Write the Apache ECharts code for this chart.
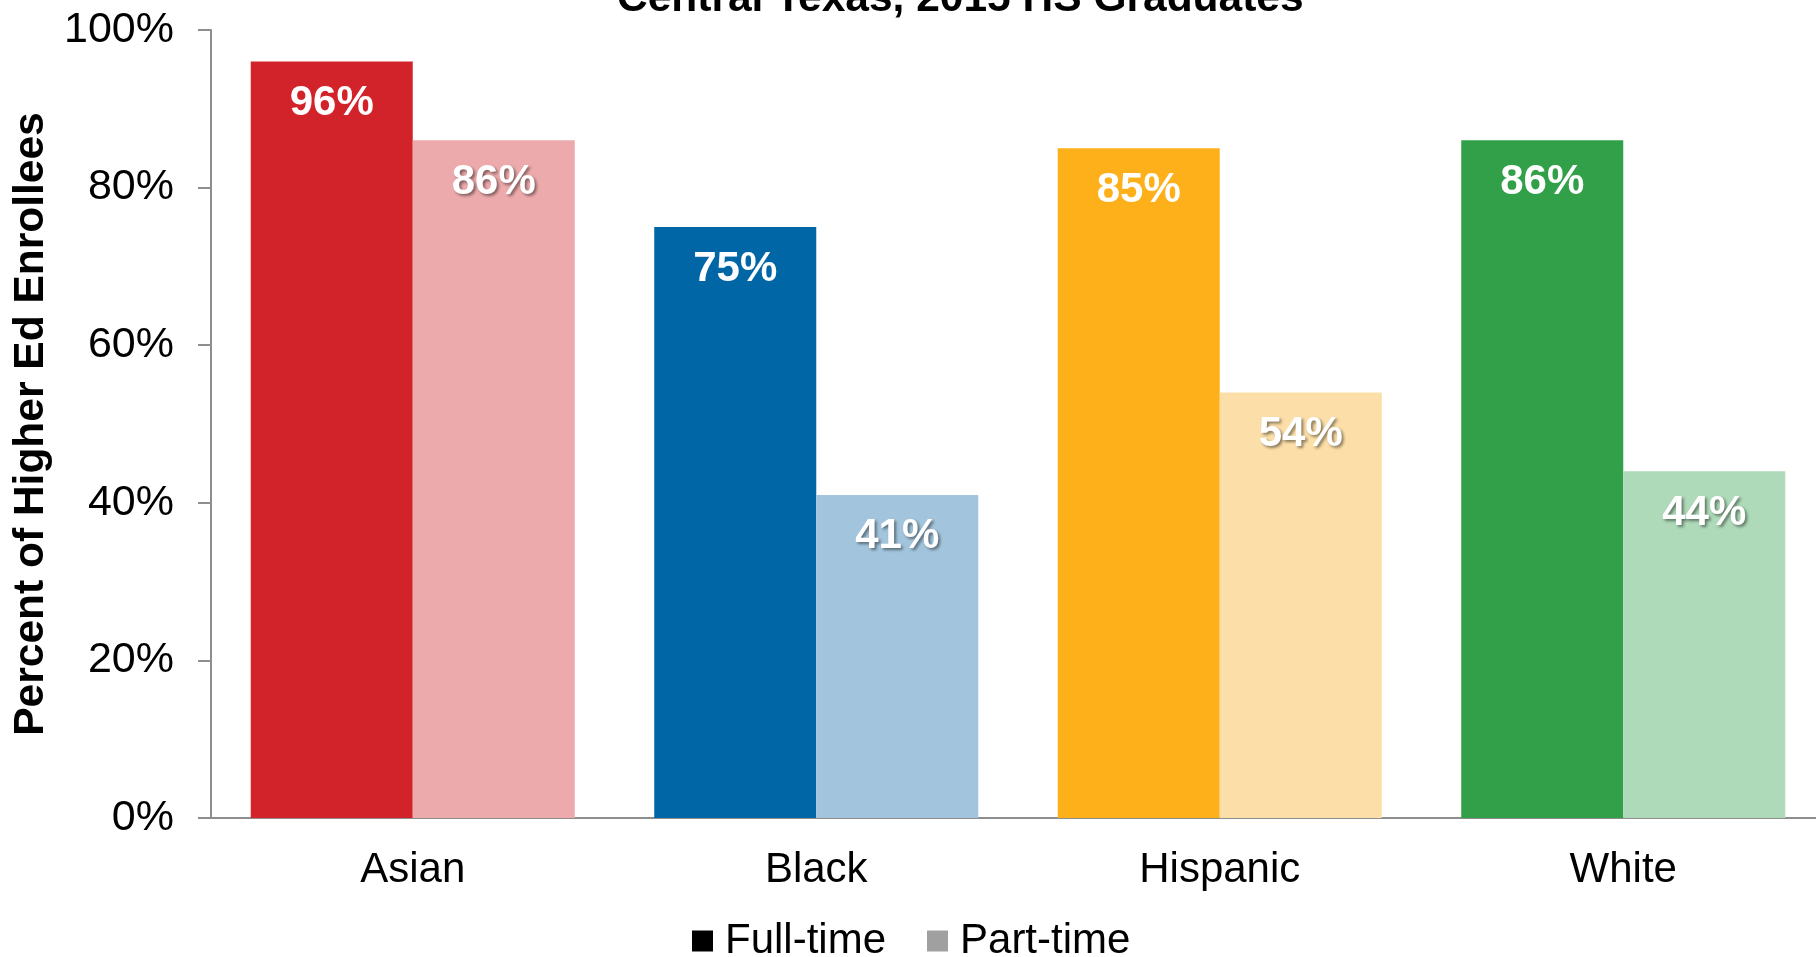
<!DOCTYPE html>
<html>
<head>
<meta charset="utf-8">
<title>Central Texas, 2015 HS Graduates</title>
<script src="https://cdn.jsdelivr.net/npm/echarts@6/dist/echarts.min.js"></script>
<style>
  html, body { margin: 0; padding: 0; background: #ffffff; overflow: hidden; }
  /* canvas is a little wider than the window so the plot area runs past the right edge */
  #chart { width: 1826px; height: 957px; }
</style>
</head>
<body>
<div id="chart"></div>
<script>
// Share of higher-ed enrollees by race/ethnicity, full-time vs part-time
const categories = ['Asian', 'Black', 'Hispanic', 'White'];
const fullTime = [96, 75, 85, 86];
const partTime = [86, 41, 54, 44];
const yTicks = [0, 20, 40, 60, 80, 100];

// One hue per group: strong shade for full-time, pale shade for part-time
const fullColors = ['#D2232A', '#0066A6', '#FDB01A', '#31A048'];
const partColors = ['#EDAAAC', '#A2C5DD', '#FCDFA8', '#AEDAB9'];

const FONT = '"Liberation Sans", Arial, Helvetica, sans-serif';

const chart = echarts.init(document.getElementById('chart'), null, { renderer: 'canvas' });

const baseLabel = {
  show: true,
  position: 'insideTop',
  distance: 21,
  color: '#ffffff',
  fontFamily: FONT,
  fontWeight: 'bold',
  fontSize: 42,
  formatter: p => Math.round(p.value) + '%'
};

chart.setOption({
  backgroundColor: '#ffffff',
  animation: false,
  title: {
    text: 'Central Texas, 2015 HS Graduates',
    left: 617,
    top: -22,
    padding: 0,
    textStyle: {
      fontFamily: FONT,
      fontWeight: 'bold',
      fontSize: 42.5,
      lineHeight: 43,
      color: '#000000'
    }
  },
  legend: {
    top: 920,
    left: 692,
    padding: 0,
    itemWidth: 21,
    itemHeight: 21,
    itemGap: 41,
    icon: 'rect',
    textStyle: {
      fontFamily: FONT,
      fontSize: 42,
      color: '#000000',
      padding: [0, 0, 0, 7]
    },
    data: [
      { name: 'Full-time', itemStyle: { color: '#000000' } },
      { name: 'Part-time', itemStyle: { color: '#A0A0A0' } }
    ]
  },
  grid: {
    left: 211,
    top: 30,
    bottom: 139,
    right: 1,
    containLabel: false
  },
  xAxis: {
    type: 'category',
    data: categories,
    axisLine: { show: true, lineStyle: { color: '#8E8E8E', width: 2 } },
    axisTick: { show: false },
    axisLabel: {
      margin: 31,
      fontFamily: FONT,
      fontSize: 42,
      color: '#000000'
    },
    splitLine: { show: false }
  },
  yAxis: {
    type: 'value',
    min: yTicks[0],
    max: yTicks[yTicks.length - 1],
    interval: yTicks[1] - yTicks[0],
    name: 'Percent of Higher Ed Enrollees',
    nameLocation: 'middle',
    nameGap: 146,
    nameTextStyle: {
      fontFamily: FONT,
      fontWeight: 'bold',
      fontSize: 42.5,
      color: '#000000'
    },
    axisLine: { show: true, lineStyle: { color: '#8E8E8E', width: 2 } },
    axisTick: { show: true, inside: false, length: 13, lineStyle: { color: '#8E8E8E', width: 2 } },
    axisLabel: {
      margin: 37,
      fontFamily: FONT,
      fontSize: 43,
      color: '#000000',
      formatter: '{value}%'
    },
    splitLine: { show: false }
  },
  series: [
    {
      name: 'Full-time',
      type: 'bar',
      barGap: '0%',
      barCategoryGap: '19.7%',
      itemStyle: { color: '#000000' },
      label: baseLabel,
      data: fullTime.map((v, i) => ({ value: v, itemStyle: { color: fullColors[i] } }))
    },
    {
      name: 'Part-time',
      type: 'bar',
      barGap: '0%',
      barCategoryGap: '19.7%',
      itemStyle: { color: '#A0A0A0' },
      label: Object.assign({}, baseLabel, {
        textShadowColor: 'rgba(0,0,0,0.45)',
        textShadowBlur: 3,
        textShadowOffsetX: 2,
        textShadowOffsetY: 2
      }),
      data: partTime.map((v, i) => ({ value: v, itemStyle: { color: partColors[i] } }))
    }
  ]
});
</script>
</body>
</html>
